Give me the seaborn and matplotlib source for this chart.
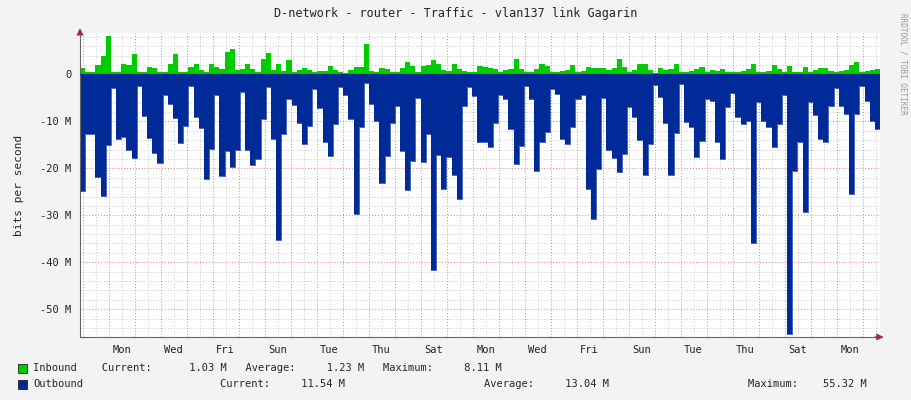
import numpy as np
import pandas as pd
import matplotlib
matplotlib.use('Agg')
import matplotlib.pyplot as plt
import seaborn as sns

# values in Mbit/s, ~4.2 h per sample
inbound = [1.3, 0.4, 0.6, 1.9, 4.0, 8.1, 0.5, 0.5, 2.1, 2.0, 4.3, 0.4, 0.5, 1.6, 1.4, 0.4, 0.5, 2.3, 4.3, 0.4,
           0.5, 1.6, 2.3, 0.9, 0.4, 2.1, 1.6, 1.1, 4.8, 5.3, 0.9, 1.1, 2.1, 1.1, 0.4, 3.2, 4.6, 1.0,
           2.3, 0.7, 3.0, 0.5, 0.9, 1.3, 0.9, 0.4, 0.7, 0.7, 1.8, 0.9, 0.5, 0.2, 0.9, 1.6, 1.6, 6.4, 0.7, 0.5,
           1.4, 1.1, 0.5, 0.5, 1.3, 2.6, 1.8, 0.5, 1.8, 1.9, 3.0, 2.1, 0.9, 0.7, 2.3, 1.2, 0.7, 0.4, 0.4, 1.8,
           1.6, 1.3, 1.1, 0.5, 0.9, 1.2, 3.2, 1.1, 0.4, 0.5, 1.2, 2.1, 1.8, 0.4, 0.5, 0.7, 0.9, 1.9, 0.5, 0.7,
           1.6, 1.3, 1.4, 1.3, 0.9, 1.3, 3.3, 1.6, 0.5, 0.9, 2.1, 2.3, 0.9, 0.2, 1.4, 0.9, 1.1, 2.3,
           0.4, 0.5, 0.7, 1.2, 1.6, 0.4, 0.9, 0.7, 1.1, 0.6, 0.4, 0.5, 0.7, 1.1, 2.1, 0.5, 0.5, 0.7, 1.9, 1.2,
           0.5, 1.8, 0.6, 0.6, 1.6, 0.4, 0.9, 1.4, 1.3, 0.7, 0.4, 0.7, 0.9, 2.0, 2.7, 0.5, 0.7, 0.9, 1.1]
outbound = [24.8, 12.8, 12.8, 21.8, 25.9, 15.0, 3.0, 13.8, 13.3, 16.1, 17.8, 2.5, 8.9, 13.5, 16.8, 18.9, 4.3, 6.4, 9.2, 14.7,
            10.9, 2.5, 9.0, 11.4, 22.3, 15.9, 4.3, 21.6, 16.3, 19.7, 16.1, 3.8, 16.1, 19.3, 18.1, 9.6, 2.7, 13.7,
            35.2, 12.6, 5.3, 6.6, 10.4, 14.9, 10.9, 3.2, 7.2, 14.4, 17.4, 10.6, 2.6, 4.3, 9.4, 29.8, 11.2, 1.8, 6.4, 9.9,
            23.2, 17.4, 10.4, 6.7, 16.3, 24.6, 18.4, 5.1, 18.7, 12.8, 41.6, 17.2, 24.5, 17.6, 21.4, 26.6, 6.7, 2.7, 4.6, 14.5,
            14.5, 15.4, 10.3, 4.5, 5.2, 11.6, 19.0, 15.2, 2.5, 5.3, 20.6, 14.5, 12.3, 3.2, 4.1, 13.7, 14.8, 11.1, 5.2, 4.3,
            24.3, 30.7, 20.1, 5.0, 16.1, 17.7, 20.7, 17.0, 6.9, 9.0, 14.0, 21.4, 14.9, 2.3, 4.8, 10.4, 21.4, 12.4,
            2.1, 10.1, 11.3, 17.6, 14.2, 5.3, 5.7, 14.5, 18.1, 7.0, 4.0, 9.1, 10.5, 9.9, 35.8, 5.9, 9.9, 11.3, 15.5, 10.6,
            4.3, 55.3, 20.6, 14.4, 29.4, 5.9, 8.7, 13.7, 14.5, 6.7, 3.0, 6.7, 8.5, 25.4, 8.4, 2.5, 5.7, 9.9, 11.6]
day_labels = ['Mon', 'Wed', 'Fri', 'Sun', 'Tue', 'Thu', 'Sat', 'Mon', 'Wed', 'Fri', 'Sun', 'Tue', 'Thu', 'Sat', 'Mon']
y_ticks = [0, -10, -20, -30, -40, -50]
y_tick_labels = ['0', '-10 M', '-20 M', '-30 M', '-40 M', '-50 M']

span_days = 30.77
first_midnight = 1.10
step = span_days / len(inbound)

df = pd.DataFrame({'t': np.arange(len(inbound) + 1) * step,
                   'in': inbound + [inbound[-1]],
                   'out': [-v for v in outbound] + [-outbound[-1]]})

sns.set_style('white')
plt.rcParams['font.family'] = ['DejaVu Sans Mono']
fig = plt.figure(figsize=(9.11, 4.0), dpi=100, facecolor='#f3f3f3')
ax = fig.add_axes([80/911, 1-337/400, 800/911, 304/400])
ax.set_facecolor('white')

# grid
for d in np.arange(first_midnight - 1, span_days + 1, 0.5):
    major = abs(d - round(d - first_midnight) - first_midnight) < 1e-6
    ax.axvline(d, color='#e08080' if major else '#c8c8c8', ls=(0, (1, 2)), lw=0.7, zorder=0)
for v in range(-56, 10, 2):
    ax.axhline(v, color='#e08080' if v % 10 == 0 else '#c8c8c8', ls=(0, (1, 2)), lw=0.7, zorder=0)

ax.fill_between(df['t'], 0, df['in'], step='post', color='#00cc00', lw=0, zorder=2)
ax.fill_between(df['t'], 0, df['out'], step='post', color='#002a97', lw=0, zorder=2)
sns.lineplot(data=df, x='t', y='out', drawstyle='steps-post', color='#002a97', lw=0.5, ax=ax, zorder=3)
ax.axhline(0, color='#002a97', lw=0.8, zorder=3)

ax.set_xlim(0, span_days)
ax.set_ylim(-55.9, 8.8)
ax.set_yticks(y_ticks)
ax.set_yticklabels(y_tick_labels)
ax.set_xticks([first_midnight + 0.5 + 2 * i for i in range(len(day_labels))])
ax.set_xticklabels(day_labels)
ax.tick_params(labelsize=7.5, length=0, pad=6, colors='#222222')
ax.set_xlabel('')
ax.set_ylabel('bits per second', fontsize=8, labelpad=12)
for s in ['top', 'right']:
    ax.spines[s].set_visible(False)
for s in ['left', 'bottom']:
    ax.spines[s].set_color('#666666')
    ax.spines[s].set_linewidth(0.8)
ax.annotate('', xy=(1.008, 0), xycoords='axes fraction', xytext=(0.99, 0),
            arrowprops=dict(arrowstyle='-|>', color='#a03030', lw=0.8))
ax.annotate('', xy=(0, 1.025), xycoords='axes fraction', xytext=(0, 0.99),
            arrowprops=dict(arrowstyle='-|>', color='#a03030', lw=0.8))

fig.text(0.5, 1-14/400, 'D-network - router - Traffic - vlan137 link Gagarin', ha='center', va='center', fontsize=8.5)
fig.text(903/911, 0.84, 'RRDTOOL / TOBI OETIKER', rotation=270, ha='center', va='center', fontsize=5.5, color='#999999')

fig.patches.append(plt.Rectangle((18/911, 1-373/400), 9/911, 9/400, transform=fig.transFigure,
                                 facecolor='#00cc00', edgecolor='#222222', lw=0.6))
fig.patches.append(plt.Rectangle((18/911, 1-389/400), 9/911, 9/400, transform=fig.transFigure,
                                 facecolor='#002a97', edgecolor='#222222', lw=0.6))
fig.text(33/911, 1-368/400, 'Inbound    Current:      1.03 M   Average:     1.23 M   Maximum:     8.11 M',
         va='center', fontsize=7.5)
fig.text(33/911, 1-384/400, 'Outbound', va='center', fontsize=7.5)
fig.text(220/911, 1-384/400, 'Current:     11.54 M', va='center', fontsize=7.5)
fig.text(484/911, 1-384/400, 'Average:     13.04 M', va='center', fontsize=7.5)
fig.text(748/911, 1-384/400, 'Maximum:    55.32 M', va='center', fontsize=7.5)

fig.savefig('out.png', dpi=100, facecolor=fig.get_facecolor())
